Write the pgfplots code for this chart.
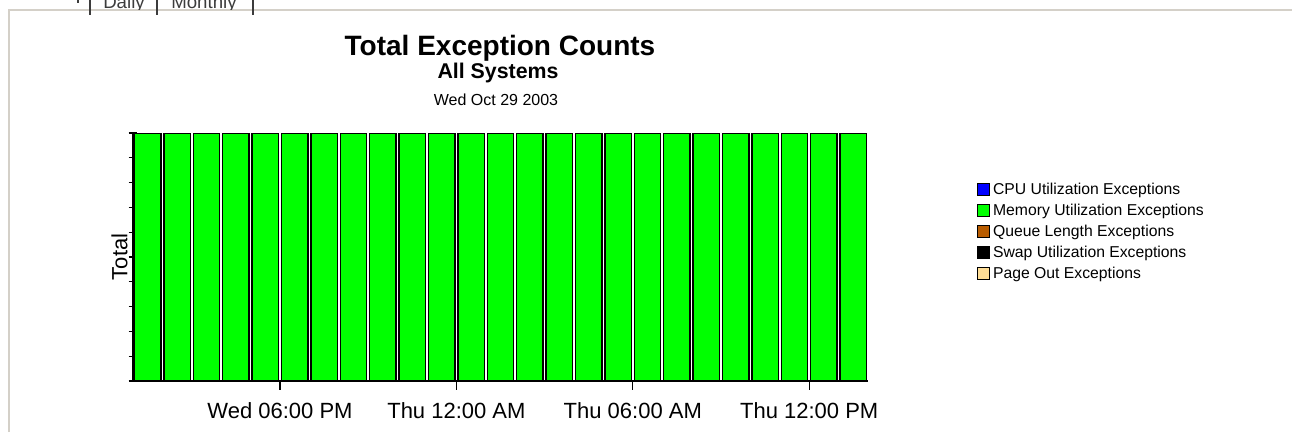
\documentclass[border=0pt]{standalone}
\usepackage{fontspec}
\setmainfont{Liberation Sans}
\usepackage{pgfplots}
\pgfplotsset{compat=1.18}

\definecolor{framegray}{RGB}{212,208,200}
\definecolor{tabgray}{RGB}{60,60,60}
\definecolor{cpublue}{RGB}{0,0,255}
\definecolor{memgreen}{RGB}{0,255,0}
\definecolor{queuebrown}{RGB}{184,92,0}
\definecolor{pageout}{RGB}{255,222,150}

\begin{document}
\begin{tikzpicture}[x=0.75pt,y=0.75pt]
% page size in px (1px = 0.75pt)
\path[use as bounding box] (0,0) rectangle (1292,-432);

% page frame and the cut-off tab bar above it
\draw[framegray, line width=1.5pt] (9,-432) -- (9,-10) -- (1292,-10);
\begin{scope}
  \clip (0,0) rectangle (1292,-9);
  \node[anchor=base, font=\fontsize{14}{16}\selectfont, text=tabgray, inner sep=0pt] at (124,-8) {Daily};
  \node[anchor=base, font=\fontsize{14}{16}\selectfont, text=tabgray, inner sep=0pt] at (204,-8) {Monthly};
\end{scope}
\draw[tabgray, line width=1.2pt] (78,0) -- (78,-3) (90,0) -- (90,-15) (157,0) -- (157,-15) (253,0) -- (253,-15);

% titles
\node[font=\fontsize{21}{24}\selectfont\bfseries] at (500,-48) {Total Exception Counts};
\node[font=\fontsize{16}{19}\selectfont\bfseries] at (498,-73) {All Systems};
\node[font=\fontsize{12}{14}\selectfont] at (496,-100) {Wed Oct 29 2003};

\begin{axis}[
    at={(99.75pt,-285.75pt)},
    anchor=south west,
    scale only axis,
    width=551.25pt,
    height=186pt,
    xmin=13, xmax=38,
    ymin=0, ymax=10,
    axis x line=bottom,
    axis y line=left,
    axis line style={-, line width=1.1pt},
    xtick={18,24,30,36},
    xticklabels={Wed 06:00 PM, Thu 12:00 AM, Thu 06:00 AM, Thu 12:00 PM},
    x tick label style={font=\fontsize{16.5}{19}\selectfont, yshift=-6pt},
    xtick align=center,
    ytick={0,1,...,10},
    yticklabels={},
    ytick align=center,
    major tick length=6.5pt,
    tick style={black, line width=0.9pt},
    ylabel={Total},
    ylabel style={font=\fontsize{16.5}{19}\selectfont, at={(axis description cs:-0.001,0.5)}, anchor=south, rotate=0},
    ybar,
    bar width=0.9,
    bar shift=0pt,
    legend style={draw=none, at={(1.143,0.82)}, anchor=north west,
        font=\fontsize{11.8}{14}\selectfont, row sep=1.6pt,
        /tikz/every even column/.append style={column sep=0pt}},
    legend cell align=left,
    legend image code/.code={\draw[#1, line width=0.8pt] (0pt,-4.5pt) rectangle (9pt,4.5pt);},
]
\addlegendimage{fill=cpublue, draw=black}
\addlegendentry{CPU Utilization Exceptions}

% hourly totals, Wed 13:00 to Thu 13:00 (every hour at the top of the scale)
\addplot[fill=memgreen, draw=black, line width=1.1pt] coordinates {
    (13.5,10) (14.5,10) (15.5,10) (16.5,10) (17.5,10)
    (18.5,10) (19.5,10) (20.5,10) (21.5,10) (22.5,10)
    (23.5,10) (24.5,10) (25.5,10) (26.5,10) (27.5,10)
    (28.5,10) (29.5,10) (30.5,10) (31.5,10) (32.5,10)
    (33.5,10) (34.5,10) (35.5,10) (36.5,10) (37.5,10)
};
\addlegendentry{Memory Utilization Exceptions}

\addlegendimage{fill=queuebrown, draw=black}
\addlegendentry{Queue Length Exceptions}
\addlegendimage{fill=black, draw=black}
\addlegendentry{Swap Utilization Exceptions}
\addlegendimage{fill=pageout, draw=black}
\addlegendentry{Page Out Exceptions}
\end{axis}
\end{tikzpicture}
\end{document}
